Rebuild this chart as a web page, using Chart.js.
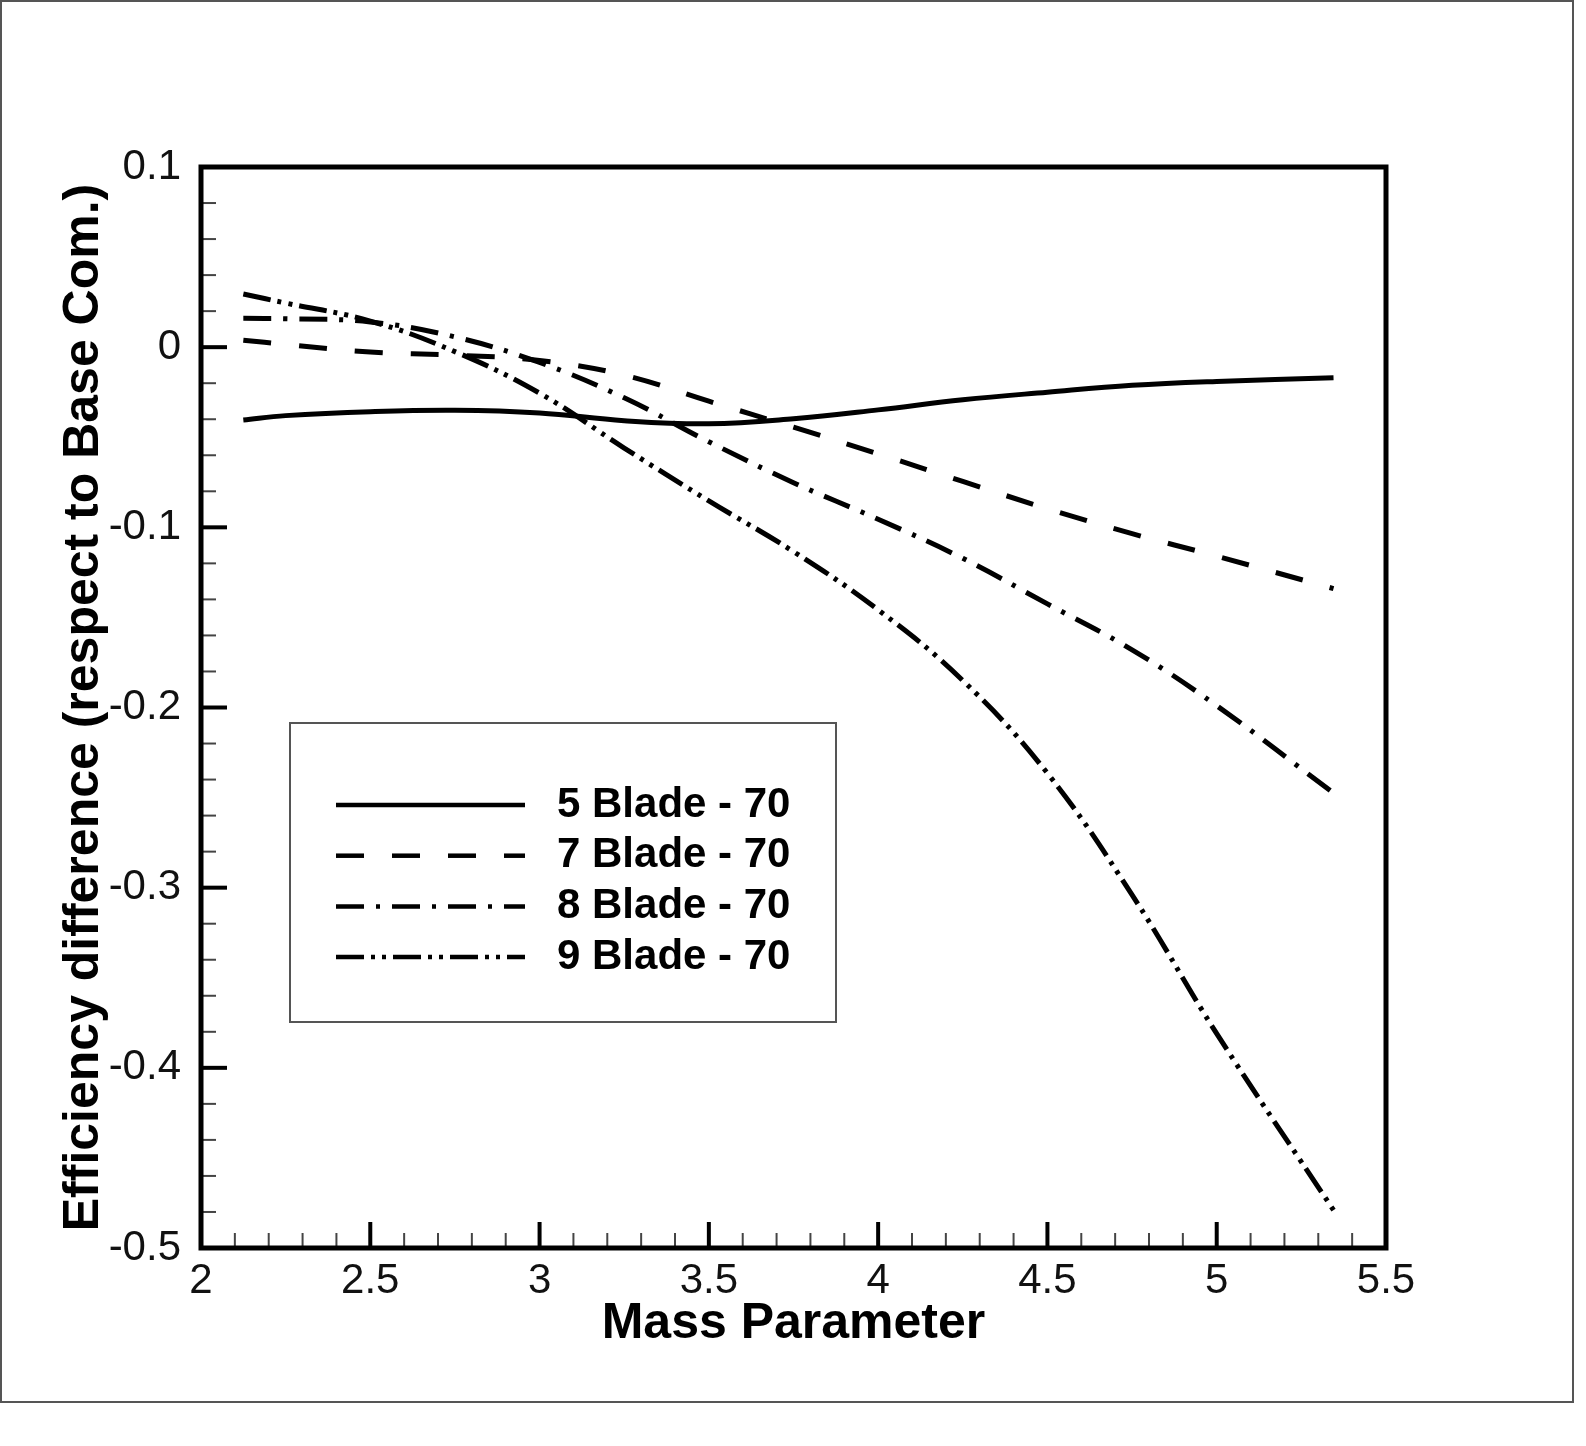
<!DOCTYPE html>
<html>
<head>
<meta charset="utf-8">
<title>Efficiency difference vs Mass Parameter</title>
<script src="https://cdn.jsdelivr.net/npm/chart.js@4.4.1/dist/chart.umd.min.js"></script>
<style>
  html, body { margin: 0; padding: 0; background: #fff; }
  #wrap { position: relative; width: 1586px; height: 1446px; }
</style>
</head>
<body>
<div id="wrap"><canvas id="effChart"></canvas></div>
<script>
// values
const massParam = [2.125, 2.25, 2.5, 2.75, 3.0, 3.25, 3.5, 3.75, 4.0, 4.25, 4.5, 4.75, 5.0, 5.345];
const blade5 = [-0.0404, -0.0380, -0.0358, -0.0350, -0.0365, -0.0408, -0.0425, -0.0397, -0.0348, -0.0292, -0.0250, -0.0212, -0.0190, -0.0170];
const blade7 = [0.0039, 0.0015, -0.0027, -0.0044, -0.0074, -0.0155, -0.0300, -0.0444, -0.0592, -0.0745, -0.0897, -0.1035, -0.1160, -0.1340];
const blade8 = [0.0160, 0.0158, 0.0140, 0.0057, -0.0085, -0.0281, -0.0525, -0.0752, -0.0955, -0.1172, -0.1425, -0.1680, -0.1990, -0.2475];
const blade9 = [0.0295, 0.0245, 0.0145, -0.0025, -0.0255, -0.0560, -0.0853, -0.1135, -0.1458, -0.1850, -0.2365, -0.3040, -0.3810, -0.4790];

const seriesNames = ["5 Blade - 70", "7 Blade - 70", "8 Blade - 70", "9 Blade - 70"];
const seriesDash = [[], [28, 28], [28, 12, 4, 12], [28, 7, 4, 7, 4, 7]];

const xTicks = [2, 2.5, 3, 3.5, 4, 4.5, 5, 5.5];
const xTickLabels = ["2", "2.5", "3", "3.5", "4", "4.5", "5", "5.5"];
const yTicks = [0.1, 0, -0.1, -0.2, -0.3, -0.4, -0.5];
const yTickLabels = ["0.1", "0", "-0.1", "-0.2", "-0.3", "-0.4", "-0.5"];

const FONT = "'Liberation Sans', Arial, Helvetica, sans-serif";

function toPoints(ys) {
    return massParam.map((x, i) => ({ x: x, y: ys[i] }));
}

function line(ctx, x1, y1, x2, y2) {
    ctx.beginPath();
    ctx.moveTo(x1, y1);
    ctx.lineTo(x2, y2);
    ctx.stroke();
}

// white page with thin grey frame
const pageFrame = {
    id: "pageFrame",
    beforeDraw(chart) {
        const ctx = chart.ctx;
        ctx.save();
        ctx.fillStyle = "#fff";
        ctx.fillRect(0, 0, chart.width, chart.height);
        ctx.strokeStyle = "#555";
        ctx.lineWidth = 2;
        ctx.strokeRect(1, 1, 1572, 1401);
        ctx.restore();
    }
};

// box around the plot and inward ticks
const axisDecor = {
    id: "axisDecor",
    afterDatasetsDraw(chart) {
        const { ctx, chartArea: a, scales: { x, y } } = chart;
        ctx.save();
        ctx.lineCap = "butt";

        ctx.strokeStyle = "#444";
        ctx.lineWidth = 2;
        for (let i = 1; i < 35; i++) {
            if (i % 5 === 0) continue;
            const px = x.getPixelForValue(2 + i * 0.1);
            line(ctx, px, a.bottom, px, a.bottom - 15);
        }
        for (let i = 1; i < 30; i++) {
            if (i % 5 === 0) continue;
            const py = y.getPixelForValue(-0.5 + i * 0.02);
            line(ctx, a.left, py, a.left + 15, py);
        }

        ctx.strokeStyle = "#000";
        ctx.lineWidth = 4;
        xTicks.forEach(v => {
            const px = x.getPixelForValue(v);
            line(ctx, px, a.bottom, px, a.bottom - 26);
        });
        yTicks.forEach(v => {
            const py = y.getPixelForValue(v);
            line(ctx, a.left, py, a.left + 26, py);
        });

        ctx.lineWidth = 5;
        ctx.strokeRect(a.left, a.top, a.right - a.left, a.bottom - a.top);
        ctx.restore();
    }
};

// boxed legend inside the plot
const legendBox = {
    id: "legendBox",
    afterDraw(chart) {
        const ctx = chart.ctx;
        ctx.save();
        ctx.fillStyle = "#fff";
        ctx.fillRect(290, 723, 546, 299);
        ctx.strokeStyle = "#555";
        ctx.lineWidth = 2;
        ctx.strokeRect(290, 723, 546, 299);

        chart.data.datasets.forEach((ds, i) => {
            const yy = 805 + i * 50.7;
            ctx.strokeStyle = "#000";
            ctx.lineWidth = 4.5;
            ctx.lineCap = "butt";
            ctx.setLineDash(ds.borderDash || []);
            line(ctx, 336, yy, 525, yy);
            ctx.setLineDash([]);
            ctx.fillStyle = "#000";
            ctx.font = "bold 42px " + FONT;
            ctx.textBaseline = "middle";
            ctx.textAlign = "left";
            ctx.fillText(ds.label, 557, yy);
        });
        ctx.restore();
    }
};

const datasets = [blade5, blade7, blade8, blade9].map((ys, i) => ({
    label: seriesNames[i],
    data: toPoints(ys),
    borderColor: "#000",
    borderWidth: 5,
    borderDash: seriesDash[i],
    borderCapStyle: "butt",
    pointRadius: 0,
    fill: false,
    tension: 0.4
}));

new Chart(document.getElementById("effChart"), {
    type: "line",
    data: { datasets: datasets },
    plugins: [pageFrame, axisDecor, legendBox],
    options: {
        responsive: true,
        maintainAspectRatio: false,
        animation: false,
        devicePixelRatio: 1,
        layout: { padding: { left: 0, top: 167, right: 200, bottom: 0 } },
        plugins: {
            legend: { display: false },
            tooltip: { enabled: false }
        },
        scales: {
            x: {
                type: "linear",
                min: 2,
                max: 5.5,
                grid: { display: false },
                border: { display: false },
                afterBuildTicks: s => { s.ticks = xTicks.map(v => ({ value: v })); },
                afterFit: s => { s.height = 198; },
                ticks: {
                    padding: 0,
                    color: "#111",
                    font: { family: FONT, size: 42 },
                    maxRotation: 0,
                    callback: v => xTickLabels[xTicks.indexOf(v)]
                },
                title: {
                    display: true,
                    text: "Mass Parameter",
                    color: "#000",
                    font: { family: FONT, size: 50, weight: "bold" },
                    padding: { top: 0, bottom: 92 }
                }
            },
            y: {
                type: "linear",
                min: -0.5,
                max: 0.1,
                grid: { display: false },
                border: { display: false },
                afterBuildTicks: s => { s.ticks = yTicks.map(v => ({ value: v })); },
                afterFit: s => { s.width = 201; },
                ticks: {
                    padding: 12,
                    color: "#111",
                    font: { family: FONT, size: 42 },
                    callback: v => yTickLabels[yTicks.indexOf(v)]
                },
                title: {
                    display: true,
                    text: "Efficiency difference (respect to Base Com.)",
                    color: "#000",
                    font: { family: FONT, size: 50, weight: "bold" },
                    padding: { top: 54, bottom: 0 }
                }
            }
        }
    }
});
</script>
</body>
</html>
